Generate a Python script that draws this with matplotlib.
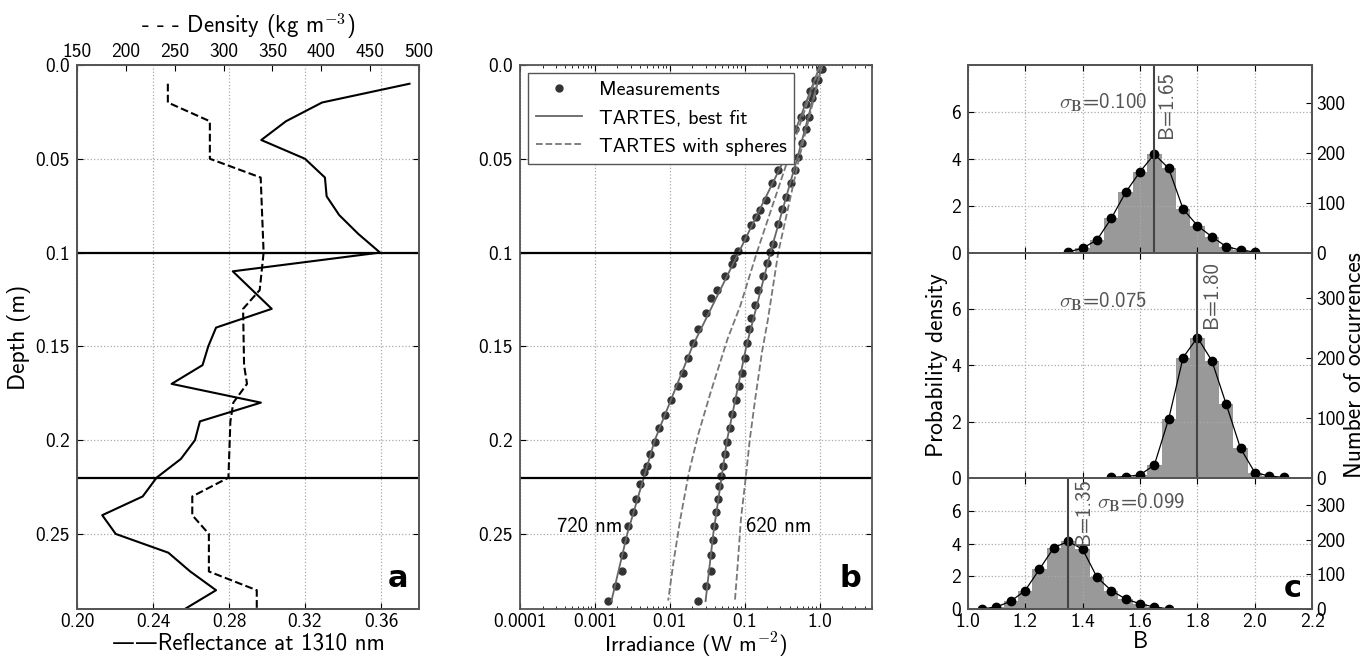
import numpy as np
import matplotlib
matplotlib.use("Agg")
import matplotlib.pyplot as plt

plt.rcParams['font.family'] = ['cmss10', 'DejaVu Sans']
plt.rcParams['mathtext.fontset'] = 'cm'
plt.rcParams['axes.unicode_minus'] = False
plt.rcParams['axes.edgecolor'] = '#555555'
plt.rcParams['axes.linewidth'] = 1.3
plt.rcParams['xtick.direction'] = 'in'
plt.rcParams['ytick.direction'] = 'in'
plt.rcParams['xtick.labelsize'] = 14
plt.rcParams['ytick.labelsize'] = 14
plt.rcParams['xtick.major.size'] = 4
plt.rcParams['ytick.major.size'] = 4
plt.rcParams['xtick.minor.size'] = 2
plt.rcParams['xtick.major.pad'] = 3
plt.rcParams['ytick.major.pad'] = 5

# ---------------- panel a : reflectance / density profiles
refl_depth = [0.01, 0.02, 0.03, 0.04, 0.05, 0.06, 0.07, 0.08, 0.09, 0.10,
              0.11, 0.13, 0.14, 0.15, 0.16, 0.17, 0.18, 0.19, 0.20, 0.21,
              0.22, 0.23, 0.24, 0.25, 0.26, 0.27, 0.28, 0.29]
reflectance = [0.375, 0.329, 0.310, 0.297, 0.320, 0.3305, 0.3314, 0.338, 0.348, 0.3595,
               0.282, 0.3025, 0.2732, 0.2691, 0.2661, 0.2498, 0.2968, 0.2647, 0.2621, 0.2547,
               0.2419, 0.2346, 0.2133, 0.2204, 0.2481, 0.2596, 0.2732, 0.2568]

dens_depth = [0.01, 0.02, 0.03, 0.05, 0.06, 0.10, 0.12, 0.13, 0.16, 0.17, 0.18,
              0.19, 0.22, 0.23, 0.24, 0.25, 0.27, 0.28, 0.29]
density = [243, 243, 286, 286, 338, 341, 337, 320, 321, 324, 310,
           307, 305, 268, 268, 285, 285, 334, 334]

layer_bounds = [0.10, 0.22]
depth_ticks = [0.0, 0.05, 0.1, 0.15, 0.2, 0.25]
depth_labels = ['0.0', '0.05', '0.1', '0.15', '0.2', '0.25']
refl_ticks = [0.20, 0.24, 0.28, 0.32, 0.36]
refl_labels = ['0.20', '0.24', '0.28', '0.32', '0.36']
dens_ticks = [150, 200, 250, 300, 350, 400, 450, 500]

# ---------------- panel b : irradiance profiles
m720_depth = [0.002, 0.008, 0.014, 0.021, 0.0275, 0.034, 0.0417, 0.0488, 0.0562, 0.0629,
              0.0718, 0.0771, 0.081, 0.0851, 0.0922, 0.0993, 0.1028, 0.1059, 0.1126, 0.120,
              0.124, 0.132, 0.141, 0.1484, 0.1564, 0.164, 0.1711, 0.1787, 0.1864, 0.1933,
              0.201, 0.2074, 0.2136, 0.2172, 0.2234, 0.2314, 0.2385, 0.246, 0.2532, 0.2612,
              0.2699, 0.2775, 0.2858]
m720_irr = [1.00, 0.87, 0.74, 0.65, 0.56, 0.47, 0.40, 0.35, 0.28, 0.23,
            0.19, 0.16, 0.14, 0.12, 0.100, 0.081, 0.071, 0.068, 0.054, 0.043,
            0.035, 0.030, 0.024, 0.0204, 0.0174, 0.0148, 0.0129, 0.0105, 0.0087, 0.0072,
            0.0063, 0.0055, 0.0050, 0.0045, 0.0040, 0.0035, 0.0032, 0.0028, 0.0025, 0.0024,
            0.0023, 0.0019, 0.0015]
m620_depth = [0.002, 0.008, 0.0137, 0.0177, 0.0275, 0.034, 0.0417, 0.049, 0.056, 0.063,
              0.0704, 0.077, 0.085, 0.0954, 0.0998, 0.1055, 0.1126, 0.120, 0.128, 0.1348,
              0.141, 0.148, 0.156, 0.164, 0.171, 0.1787, 0.186, 0.1933, 0.201, 0.2074,
              0.2136, 0.219, 0.2243, 0.2314, 0.2385, 0.246, 0.2532, 0.2612, 0.270, 0.2775,
              0.2858]
m620_irr = [1.08, 0.95, 0.83, 0.78, 0.71, 0.65, 0.58, 0.51, 0.47, 0.42,
            0.36, 0.31, 0.275, 0.24, 0.22, 0.20, 0.178, 0.151, 0.138, 0.123,
            0.115, 0.107, 0.100, 0.091, 0.085, 0.076, 0.068, 0.063, 0.058, 0.055,
            0.051, 0.048, 0.045, 0.044, 0.041, 0.039, 0.038, 0.035, 0.035, 0.030,
            0.024]

fit720_depth = [0.0, 0.05, 0.1, 0.15, 0.2, 0.25, 0.2858]
fit720_irr = [1.02, 0.34, 0.083, 0.020, 0.0063, 0.0027, 0.00166]
fit620_depth = [0.0, 0.05, 0.1, 0.15, 0.2, 0.25, 0.2858]
fit620_irr = [1.08, 0.50, 0.22, 0.105, 0.058, 0.038, 0.030]

sph720_depth = [0.0, 0.05, 0.1, 0.1285, 0.146, 0.1746, 0.1968, 0.2172, 0.242, 0.265, 0.2855]
sph720_irr = [1.02, 0.38, 0.145, 0.087, 0.059, 0.035, 0.024, 0.018, 0.0138, 0.0112, 0.0095]
sph620_depth = [0.0, 0.05, 0.1, 0.1356, 0.153, 0.178, 0.1995, 0.2172, 0.242, 0.265, 0.2855]
sph620_irr = [1.08, 0.53, 0.28, 0.204, 0.17, 0.138, 0.117, 0.105, 0.089, 0.081, 0.074]

irr_ticks = [0.0001, 0.001, 0.01, 0.1, 1.0]
irr_labels = ['0.0001', '0.001', '0.01', '0.1', '1.0']

# ---------------- panel c : B distributions
b_centers = [[1.35, 1.40, 1.45, 1.50, 1.55, 1.60, 1.65, 1.70, 1.75, 1.80, 1.85, 1.90, 1.95, 2.00],
             [1.50, 1.55, 1.60, 1.65, 1.70, 1.75, 1.80, 1.85, 1.90, 1.95, 2.00, 2.05, 2.10],
             [1.05, 1.10, 1.15, 1.20, 1.25, 1.30, 1.35, 1.40, 1.45, 1.50, 1.55, 1.60, 1.65, 1.70]]
b_density = [[0.03, 0.19, 0.54, 1.46, 2.57, 3.45, 4.20, 3.59, 1.86, 1.15, 0.68, 0.26, 0.11, 0.03],
             [0.03, 0.06, 0.12, 0.47, 2.11, 4.28, 4.99, 4.17, 2.63, 1.06, 0.20, 0.08, 0.03],
             [0.02, 0.14, 0.49, 1.14, 2.45, 3.76, 4.14, 3.67, 1.96, 1.14, 0.63, 0.33, 0.14, 0.02]]
b_best = [1.65, 1.80, 1.35]
b_sigma = ['0.100', '0.075', '0.099']
b_ticks = [1.0, 1.2, 1.4, 1.6, 1.8, 2.0, 2.2]
b_labels = ['1.0', '1.2', '1.4', '1.6', '1.8', '2.0', '2.2']

fig = plt.figure(figsize=(13.67, 6.59), dpi=100)
grid_kw = dict(color='#aaaaaa', linestyle=':', linewidth=0.9)

# ================= a
ax_a = fig.add_axes([0.0563, 0.0759, 0.2502, 0.8255])
ax_a.plot(reflectance, refl_depth, color='black', lw=1.5)
for d in layer_bounds:
    ax_a.axhline(d, color='black', lw=1.6)
ax_a.set_xlim(0.20, 0.38)
ax_a.set_ylim(0.29, 0.0)
ax_a.set_xticks(refl_ticks)
ax_a.set_xticklabels(refl_labels)
ax_a.set_yticks(depth_ticks)
ax_a.set_yticklabels(depth_labels)
ax_a.tick_params(right=True)
ax_a.grid(True, **grid_kw)
ax_a.set_ylabel('Depth (m)', fontsize=17, labelpad=3)
ax_a.set_xlabel('\u2014\u2014Reflectance at 1310 nm', fontsize=16.5, labelpad=1)
ax_a.text(0.97, 0.03, 'a', transform=ax_a.transAxes, ha='right', va='bottom',
          fontsize=22, fontweight='bold', family='DejaVu Sans')

ax_d = ax_a.twiny()
ax_d.plot(density, dens_depth, color='black', lw=1.5, ls='--')
ax_d.set_xlim(150, 500)
ax_d.set_xticks(dens_ticks)
ax_d.tick_params(axis='x', pad=3)
ax_d.set_xlabel('- - - Density (kg m$^{-3}$)', fontsize=16.5, labelpad=7)
ax_d.set_ylim(0.29, 0.0)

# ================= b
ax_b = fig.add_axes([0.3804, 0.0759, 0.2575, 0.8255])
ax_b.set_xscale('log')
ax_b.plot(m720_irr, m720_depth, 'o', color='#333333', ms=5, mec='#333333',
          label='Measurements')
ax_b.plot(m620_irr, m620_depth, 'o', color='#333333', ms=5, mec='#333333')
ax_b.plot(fit720_irr, fit720_depth, '-', color='#666666', lw=1.3, label='TARTES, best fit')
ax_b.plot(fit620_irr, fit620_depth, '-', color='#666666', lw=1.3)
ax_b.plot(sph720_irr, sph720_depth, '--', color='#777777', lw=1.3,
          label='TARTES with spheres')
ax_b.plot(sph620_irr, sph620_depth, '--', color='#777777', lw=1.3)
for d in layer_bounds:
    ax_b.axhline(d, color='black', lw=1.6)
ax_b.set_xlim(0.0001, 5.0)
ax_b.set_ylim(0.29, 0.0)
ax_b.set_xticks(irr_ticks)
ax_b.set_xticklabels(irr_labels)
ax_b.set_yticks(depth_ticks)
ax_b.set_yticklabels(depth_labels)
ax_b.tick_params(which='both', top=True, right=True)
ax_b.grid(True, which='major', **grid_kw)
ax_b.set_xlabel('Irradiance (W m$^{-2}$)', fontsize=16, labelpad=0)
ax_b.text(0.0023, 0.246, '720 nm', ha='right', va='center', fontsize=15)
ax_b.text(0.105, 0.246, '620 nm', ha='left', va='center', fontsize=15)
leg = ax_b.legend(loc='upper left', fontsize=14.5, numpoints=1, handlelength=2.3,
                  fancybox=False, framealpha=1, borderaxespad=0.4)
leg.get_frame().set_edgecolor('#555555')
ax_b.text(0.97, 0.03, 'b', transform=ax_b.transAxes, ha='right', va='bottom',
          fontsize=22, fontweight='bold', family='DejaVu Sans')

# ================= c
c_left, c_width = 0.7079, 0.2521
c_bottoms = [0.6166, 0.2743, 0.0755]
c_heights = [0.2848, 0.3423, 0.1988]
sigma_pos = [(1.625, 6.37, 'right'), (1.625, 6.29, 'right'), (1.449, 6.5, 'left')]
blabel_pos = [(1.660, 7.75), (1.815, 7.7), (1.370, 8.0)]
axes_c = []
for i in range(3):
    ax = fig.add_axes([c_left, c_bottoms[i], c_width, c_heights[i]])
    axes_c.append(ax)
    ax.bar(b_centers[i], b_density[i], width=0.05, color='#999999', edgecolor='none')
    ax.plot(b_centers[i], b_density[i], '-o', color='black', lw=0.9, ms=6)
    ax.axvline(b_best[i], color='#444444', lw=1.5)
    ax.set_xlim(1.0, 2.2)
    ax.set_ylim(0, 8)
    ax.set_yticks([0, 2, 4, 6])
    ax.set_xticks(b_ticks)
    ax.tick_params(top=True)
    ax.grid(True, **grid_kw)
    if i < 2:
        ax.set_xticklabels([])
    else:
        ax.set_xticklabels(b_labels)
        ax.set_xlabel('B', fontsize=16.5, labelpad=0)
    sx, sy, sha = sigma_pos[i]
    ax.text(sx, sy, r'$\sigma_{\mathbf{B}}$=' + b_sigma[i], ha=sha, va='center',
            fontsize=15, color='#555555')
    bx, by = blabel_pos[i]
    ax.text(bx, by, 'B=%.2f' % b_best[i], rotation=90, ha='left', va='top',
            fontsize=15, color='#555555')
    axr = ax.twinx()
    axr.set_ylim(0, 376)
    axr.set_yticks([0, 100, 200, 300])
    axr.tick_params(axis='y', pad=3)

axes_c[1].set_ylabel('Probability density', fontsize=17, labelpad=2)
axes_c[2].text(0.97, 0.05, 'c', transform=axes_c[2].transAxes, ha='right', va='bottom',
               fontsize=22, fontweight='bold', family='DejaVu Sans')
fig.text(0.9915, 0.4455, 'Number of occurrences', rotation=90, ha='center', va='center',
         fontsize=17)

fig.savefig('out.png', dpi=100)
